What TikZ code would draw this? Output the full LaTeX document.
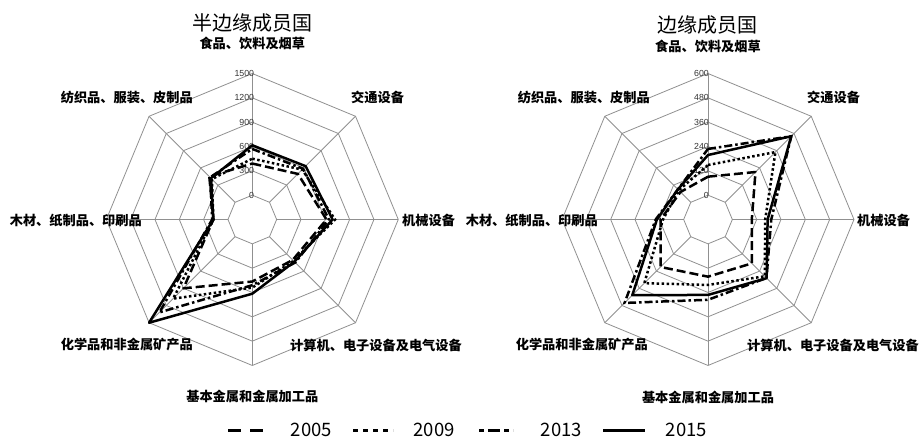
\documentclass[tikz,border=0pt]{standalone}
\usepackage{fontspec}
\setmainfont{Noto Sans CJK SC}
\newfontfamily\tickfont{Liberation Sans}
\definecolor{gridgray}{HTML}{909090}
\def\U{24.33}
\tikzset{
 gridline/.style={draw=gridgray, line width=0.8pt},
 s05/.style={line width=2.5pt, dash pattern=on 9pt off 4pt, line join=round},
 s09/.style={line width=2.5pt, dash pattern=on 2.5pt off 2.5pt},
 s13/.style={line width=2.5pt, dash pattern=on 8pt off 3pt on 2.5pt off 3pt},
 s15/.style={line width=2.5pt, line join=round},
 l05/.style={line width=3pt, dash pattern=on 13pt off 9pt},
 l09/.style={line width=3pt, dash pattern=on 5pt off 5pt},
 l13/.style={line width=3pt, dash pattern=on 5pt off 4pt on 12pt off 4pt},
 l15/.style={line width=3pt},
 cat/.style={font=\fontsize{13.2}{14}\selectfont\bfseries, inner sep=0pt},
 ttl/.style={font=\fontsize{20}{22}\selectfont, inner sep=0pt},
 tick/.style={font=\tickfont\fontsize{8.8}{9}\selectfont, inner sep=0.5pt, text=black!80},
 leg/.style={font=\fontsize{18.5}{20}\selectfont, inner sep=0pt}
}
\newcommand\radargrid{%
 \foreach \k in {1,...,6}
  \draw[gridline] (90:\k*\U) -- (45:\k*\U) -- (0:\k*\U) -- (-45:\k*\U) -- (-90:\k*\U) -- (-135:\k*\U) -- (180:\k*\U) -- (135:\k*\U) -- cycle;
 \foreach \a in {0,45,...,315}
  \draw[gridline] (\a:\U) -- (\a:6*\U);
}
\newcommand\radarpoly[9]{%
 \draw[#1] (90:#2*\U) -- (45:#3*\U) -- (0:#4*\U) -- (-45:#5*\U) -- (-90:#6*\U) -- (-135:#7*\U) -- (180:#8*\U) -- (135:#9*\U) -- cycle;
}
\begin{document}
\begin{tikzpicture}[x=1pt,y=1pt]
\useasboundingbox (0,0) rectangle (919,440);
% ---------- left chart ----------
\begin{scope}[shift={(252.3,220.5)}]
 \radargrid
 \foreach \k/\v in {1/0,2/300,3/600,4/900,5/1200,6/1500}
  \node[tick,anchor=east] (lt\k) at (2.5,\k*\U) {\v};
 \radarpoly{s05}{2.3}{2.65}{3.05}{2.35}{2.55}{4.0}{1.6}{2.5}
 \radarpoly{s09}{2.5}{2.9}{3.4}{2.4}{2.8}{4.6}{1.6}{2.35}
 \radarpoly{s13}{2.9}{2.95}{3.15}{2.5}{2.7}{5.4}{1.65}{2.45}
 \radarpoly{s15}{3.05}{3.1}{3.3}{2.45}{3.05}{6.0}{1.6}{2.4}
\end{scope}
\node[ttl] (lttl) at (252.5,417) {半边缘成员国};
\node[cat] (lc0) at (252.3,397) {食品、饮料及烟草};
\node[cat,anchor=east] (lc7) at (193,343) {纺织品、服装、皮制品};
\node[cat,anchor=west] (lc1) at (351,343) {交通设备};
\node[cat,anchor=east] (lc6) at (142,220) {木材、纸制品、印刷品};
\node[cat,anchor=west] (lc2) at (402,220) {机械设备};
\node[cat,anchor=east] (lc5) at (193,95) {化学品和非金属矿产品};
\node[cat,anchor=west] (lc3) at (290,95) {计算机、电子设备及电气设备};
\node[cat] (lc4) at (252.3,44) {基本金属和金属加工品};
% ---------- right chart ----------
\begin{scope}[shift={(708,220.5)}]
 \radargrid
 \foreach \k/\v in {1/0,2/120,3/240,4/360,5/480,6/600}
  \node[tick,anchor=east] (rt\k) at (1.5,\k*\U) {\v};
 \radarpoly{s05}{1.76}{2.76}{1.8}{2.55}{2.35}{2.76}{1.95}{1.6}
 \radarpoly{s09}{2.24}{3.92}{2.35}{3.3}{2.69}{3.7}{1.85}{1.7}
 \radarpoly{s13}{2.9}{4.84}{2.6}{3.4}{3.3}{4.85}{2.15}{1.75}
 \radarpoly{s15}{2.65}{4.84}{2.45}{3.41}{3.1}{4.4}{2.1}{1.75}
\end{scope}
\node[ttl] (rttl) at (707.5,415) {边缘成员国};
\node[cat] (rc0) at (708,394) {食品、饮料及烟草};
\node[cat,anchor=east] (rc7) at (650,343) {纺织品、服装、皮制品};
\node[cat,anchor=west] (rc1) at (807,343) {交通设备};
\node[cat,anchor=east] (rc6) at (598,220) {木材、纸制品、印刷品};
\node[cat,anchor=west] (rc2) at (857,220) {机械设备};
\node[cat,anchor=east] (rc5) at (648,95) {化学品和非金属矿产品};
\node[cat,anchor=west] (rc3) at (747,95) {计算机、电子设备及电气设备};
\node[cat] (rc4) at (708,43) {基本金属和金属加工品};
% ---------- legend ----------
\coordinate (a1) at (228,10); \coordinate (b1) at (263,10);
\coordinate (a2) at (353,10); \coordinate (b2) at (393,10);
\coordinate (a3) at (479,10); \coordinate (b3) at (513,10);
\coordinate (a4) at (603,10); \coordinate (b4) at (645,10);
\draw[l05] (a1) -- (b1);
\draw[l09] (a2) -- (b2);
\draw[l13] (a3) -- (b3);
\draw[l15] (a4) -- (b4);
\node[leg] (y1) at (311.5,10) {2005};
\node[leg] (y2) at (434,10) {2009};
\node[leg] (y3) at (561.5,10) {2013};
\node[leg] (y4) at (686.5,10) {2015};
\end{tikzpicture}
\end{document}
